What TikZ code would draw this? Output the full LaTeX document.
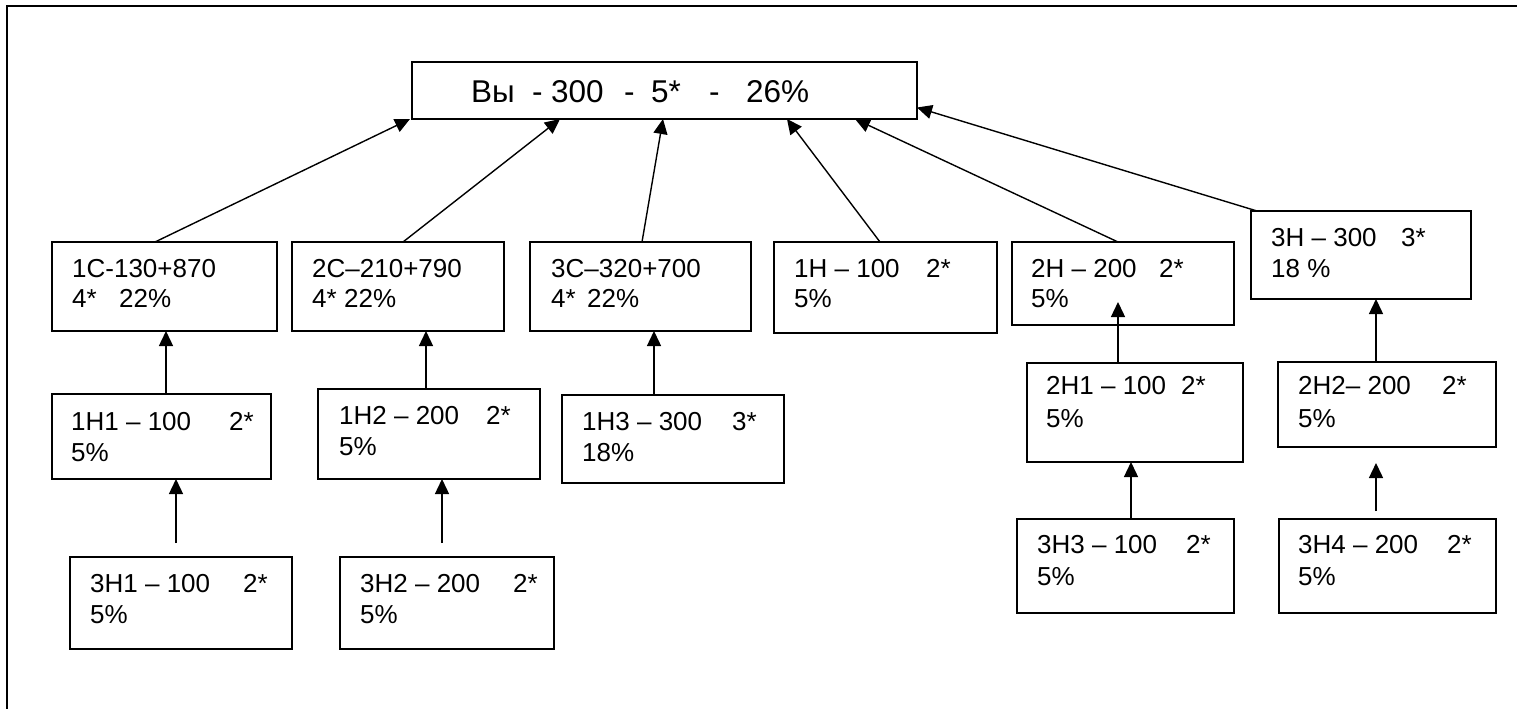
\documentclass[tikz,border=0pt]{standalone}
\usepackage{fontspec}
\setmainfont{Liberation Sans}
\usetikzlibrary{arrows.meta,calc}
\newcommand{\pp}[3]{\makebox[#1pt][l]{#2}#3}
\newcommand{\twolines}[6]{\node[txt] (#1a) at (#2,#3) {#5}; \node[txt] (#1b) at (#2,#4) {#6};}
\begin{document}
\begin{tikzpicture}[x=1pt,y=-1pt,
 box/.style={draw, line width=1.6pt, inner sep=0pt, outer sep=0pt, anchor=north west},
 txt/.style={anchor=base west, inner sep=0pt, font=\fontsize{26}{31}\selectfont},
 big/.style={anchor=base west, inner sep=0pt, font=\fontsize{31.5}{36}\selectfont},
 arr/.style={line width=1.4pt, -{Triangle[length=15pt,width=14pt]}}]
\useasboundingbox (0,0) rectangle (1517,709);
\draw[line width=2pt] (7,709) -- (7,6) -- (1517,6);
% boxes
\node[box, minimum width=505pt, minimum height=57pt] (top) at (412,62) {};
\node[box, minimum width=225pt, minimum height=89pt] (c1) at (52,242) {};
\node[box, minimum width=212pt, minimum height=89pt] (c2) at (292,242) {};
\node[box, minimum width=221pt, minimum height=89pt] (c3) at (530,242) {};
\node[box, minimum width=223pt, minimum height=91pt] (h1) at (774,242) {};
\node[box, minimum width=222pt, minimum height=83pt] (h2) at (1012,242) {};
\node[box, minimum width=220pt, minimum height=88pt] (h3) at (1251,211) {};
\node[box, minimum width=219pt, minimum height=85pt] (h11) at (52,394) {};
\node[box, minimum width=222pt, minimum height=90pt] (h12) at (318,389) {};
\node[box, minimum width=222pt, minimum height=88pt] (h13) at (562,395) {};
\node[box, minimum width=216pt, minimum height=99pt] (h21) at (1027,363) {};
\node[box, minimum width=218pt, minimum height=85pt] (h22) at (1278,362) {};
\node[box, minimum width=222pt, minimum height=92pt] (n31) at (70,557) {};
\node[box, minimum width=214pt, minimum height=92pt] (n32) at (340,557) {};
\node[box, minimum width=217pt, minimum height=94pt] (n33) at (1017,519) {};
\node[box, minimum width=217pt, minimum height=94pt] (n34) at (1279,519) {};
% texts
\node[big] (toptext) at (471,102) {\makebox[61pt][l]{Вы}\makebox[19pt][l]{-}\makebox[73pt][l]{300}\makebox[27pt][l]{-}\makebox[58pt][l]{5*}\makebox[37pt][l]{-}26\%};
\twolines{c1t}{72}{277}{307}{1С-130+870}{\pp{47}{4*}{22\%}}
\twolines{c2t}{312}{277}{307}{2С–210+790}{\pp{32}{4*}{22\%}}
\twolines{c3t}{551}{277}{307}{3С–320+700}{\pp{36}{4*}{22\%}}
\twolines{h1t}{794}{277}{307}{\pp{132}{1Н – 100}{2*}}{5\%}
\twolines{h2t}{1031}{277}{307}{\pp{128}{2Н – 200}{2*}}{5\%}
\twolines{h3t}{1271}{246}{277}{\pp{130}{3Н – 300}{3*}}{18 \%}
\twolines{h11t}{71}{430}{461}{\pp{158}{1Н1 – 100}{2*}}{5\%}
\twolines{h12t}{339}{424}{455}{\pp{147}{1Н2 – 200}{2*}}{5\%}
\twolines{h13t}{582}{430}{461}{\pp{150}{1Н3 – 300}{3*}}{18\%}
\twolines{h21t}{1046}{394}{427}{\pp{135}{2Н1 – 100}{2*}}{5\%}
\twolines{h22t}{1298}{394}{427}{\pp{144}{2Н2– 200}{2*}}{5\%}
\twolines{n31t}{90}{592}{623}{\pp{153}{3Н1 – 100}{2*}}{5\%}
\twolines{n32t}{360}{592}{623}{\pp{153}{3Н2 – 200}{2*}}{5\%}
\twolines{n33t}{1037}{553}{585}{\pp{149}{3Н3 – 100}{2*}}{5\%}
\twolines{n34t}{1298}{553}{585}{\pp{149}{3Н4 – 200}{2*}}{5\%}
% connectors to top
\draw[arr] ([xshift=103pt]c1.north west) -- ([xshift=-2pt]top.south west);
\draw[arr] ([xshift=111pt]c2.north west) -- ([xshift=148pt]top.south west);
\draw[arr] ([xshift=112pt]c3.north west) -- ([xshift=251pt]top.south west);
\draw[arr] ([xshift=106pt]h1.north west) -- ([xshift=375pt]top.south west);
\draw[arr] ([xshift=106pt]h2.north west) -- ([xshift=443pt]top.south west);
\draw[arr] ([xshift=6pt]h3.north west) -- ([yshift=-17pt]top.east);
% vertical connectors
\draw[arr] ([xshift=114pt]h11.north west) -- ([xshift=114pt]c1.south west);
\draw[arr] ([xshift=108pt]h12.north west) -- ([xshift=134pt]c2.south west);
\draw[arr] ([xshift=92pt]h13.north west) -- ([xshift=124pt]c3.south west);
\draw[arr] ([xshift=91pt]h21.north west) -- ([xshift=106pt,yshift=23pt]h2.south west);
\draw[arr] ([xshift=98pt]h22.north west) -- ([xshift=125pt]h3.south west);
\draw[arr] ([xshift=114pt]n33.north west) -- ([xshift=104pt]h21.south west);
\coordinate (f1) at (176,543);
\coordinate (f2) at (442,543);
\coordinate (f3) at (1376,511);
\draw[arr] (f1) -- ([xshift=124pt]h11.south west);
\draw[arr] (f2) -- ([xshift=124pt]h12.south west);
\draw[arr] (f3) -- ([xshift=98pt,yshift=-16pt]h22.south west);
\end{tikzpicture}
\end{document}
